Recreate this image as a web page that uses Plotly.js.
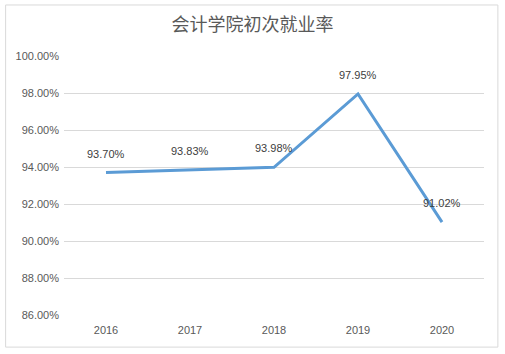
<!DOCTYPE html>
<html>
<head>
<meta charset="utf-8">
<script src="https://cdn.plot.ly/plotly-3.0.1.min.js"></script>
<style>html,body{margin:0;padding:0;background:#fff;}#chart{width:505px;height:354px;}</style>
</head>
<body>
<div id="chart"></div>
<script>
const years = ['2016', '2017', '2018', '2019', '2020'];
const rates = [93.70, 93.83, 93.98, 97.95, 91.02];
const labels = ['93.70%', '93.83%', '93.98%', '97.95%', '91.02%'];
const yTicks = [86, 88, 90, 92, 94, 96, 98, 100];
const yTickText = ['86.00%', '88.00%', '90.00%', '92.00%', '94.00%', '96.00%', '98.00%', '100.00%'];
const chartTitle = '会计学院初次就业率';

const trace = {
  x: years, y: rates, type: 'scatter', mode: 'lines',
  line: {color: '#5B9BD5', width: 3}, hoverinfo: 'skip'
};
const annotations = years.map((yr, i) => ({
  x: i, y: rates[i], text: labels[i], showarrow: false, yshift: 19,
  font: {family: 'Liberation Sans, Arial, sans-serif', size: 11, color: '#404040'}
}));
const layout = {
  width: 505, height: 354,
  margin: {l: 64, r: 21, t: 56, b: 39},
  paper_bgcolor: '#ffffff', plot_bgcolor: '#ffffff',
  showlegend: false,
  title: {text: chartTitle, x: 0.5, xanchor: 'center', y: 0.93, yanchor: 'middle',
    font: {family: 'Noto Sans CJK SC, sans-serif', size: 18, color: '#595959'}},
  xaxis: {type: 'category', range: [-0.5, years.length - 0.5], showgrid: false, zeroline: false, showline: false,
    ticks: '', ticklabelstandoff: 7,
    tickfont: {family: 'Liberation Sans, Arial, sans-serif', size: 11, color: '#595959'}},
  yaxis: {range: [86, 100], tickvals: yTicks, ticktext: yTickText, showgrid: true,
    gridcolor: '#d9d9d9', gridwidth: 1, zeroline: false, showline: false, ticks: '',
    ticklabelstandoff: 4,
    tickfont: {family: 'Liberation Sans, Arial, sans-serif', size: 11, color: '#595959'}},
  annotations: annotations,
  shapes: [{type: 'rect', xref: 'paper', yref: 'paper', x0: -0.139, x1: 1.033, y0: -0.124, y1: 1.197,
    line: {color: '#d9d9d9', width: 1}, fillcolor: 'rgba(0,0,0,0)', layer: 'below'}]
};
Plotly.newPlot('chart', [trace], layout, {displayModeBar: false, staticPlot: true});
</script>
</body>
</html>
